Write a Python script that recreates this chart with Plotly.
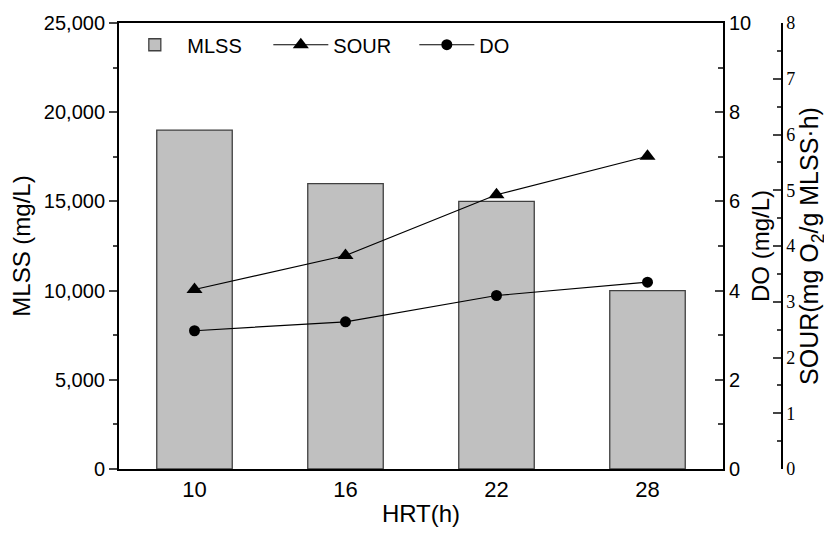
import plotly.graph_objects as go

# data
hrt = ["10", "16", "22", "28"]
mlss = [19000, 16000, 15000, 10000]
sour = [3.22, 3.83, 4.92, 5.61]
do = [3.10, 3.30, 3.89, 4.19]

font = "Liberation Sans, Arial, sans-serif"
serif = "Liberation Serif, Times New Roman, serif"

fig = go.Figure()

fig.add_trace(go.Bar(x=hrt, y=mlss, name="MLSS", width=0.5,
                     marker=dict(color="#c0c0c0", line=dict(color="#404040", width=1.3))))
fig.add_trace(go.Scatter(x=hrt, y=sour, name="SOUR", yaxis="y3", mode="lines+markers",
                         line=dict(color="black", width=1.2),
                         marker=dict(symbol="triangle-up", size=14, color="black")))
fig.add_trace(go.Scatter(x=hrt, y=do, name="DO", yaxis="y2", mode="lines+markers",
                         line=dict(color="black", width=1.2),
                         marker=dict(symbol="circle", size=11, color="black")))

# page has an 8px body margin, so the figure is a bit smaller than the window
fig.update_layout(
    width=824, height=528,
    margin=dict(l=111, r=50, t=15, b=67),
    plot_bgcolor="white", paper_bgcolor="white",
    font=dict(family=font, size=20, color="black"),
    showlegend=True,
    legend=dict(orientation="h", x=0.005, y=0.995, xanchor="left", yanchor="top",
                font=dict(size=20), bgcolor="rgba(0,0,0,0)", itemwidth=55,
                entrywidth=76),
    xaxis=dict(domain=[0, 604 / 663], type="category", showline=True, linecolor="black",
               linewidth=2, mirror=True, ticks="", tickfont=dict(size=22), automargin=False,
               title=dict(text="HRT(h)", font=dict(size=24), standoff=4)),
    yaxis=dict(range=[0, 25000], dtick=5000, tickformat=",", showline=True, linecolor="black",
               linewidth=2, ticks="outside", ticklen=8, tickwidth=1.5, showgrid=False,
               zeroline=False, automargin=False, tickfont=dict(size=20),
               minor=dict(dtick=2500, ticks="outside", ticklen=4, tickwidth=1.5),
               title=dict(text="MLSS (mg/L)", font=dict(size=24), standoff=8)),
    yaxis2=dict(range=[0, 10], dtick=2, overlaying="y", side="right", anchor="x",
                showline=True, linecolor="black", linewidth=2, ticks="inside", ticklen=8,
                tickwidth=1.5, showgrid=False, zeroline=False, automargin=False,
                tickfont=dict(size=20),
                minor=dict(dtick=1, ticks="inside", ticklen=5, tickwidth=1.5),
                title=dict(text="DO (mg/L)", font=dict(size=24), standoff=2)),
    yaxis3=dict(range=[0, 8], dtick=1, overlaying="y", side="right", anchor="free", position=1,
                showline=True, linecolor="black", linewidth=1.5, ticks="inside", ticklen=8,
                tickwidth=1.5, showgrid=False, zeroline=False, automargin=False,
                tickfont=dict(family=serif, size=18),
                minor=dict(dtick=0.5, ticks="inside", ticklen=4, tickwidth=1.5),
                title=dict(text="SOUR(mg O<sub>2</sub>/g MLSS·h)", font=dict(size=25), standoff=4)),
)

fig.write_html("out.html")
